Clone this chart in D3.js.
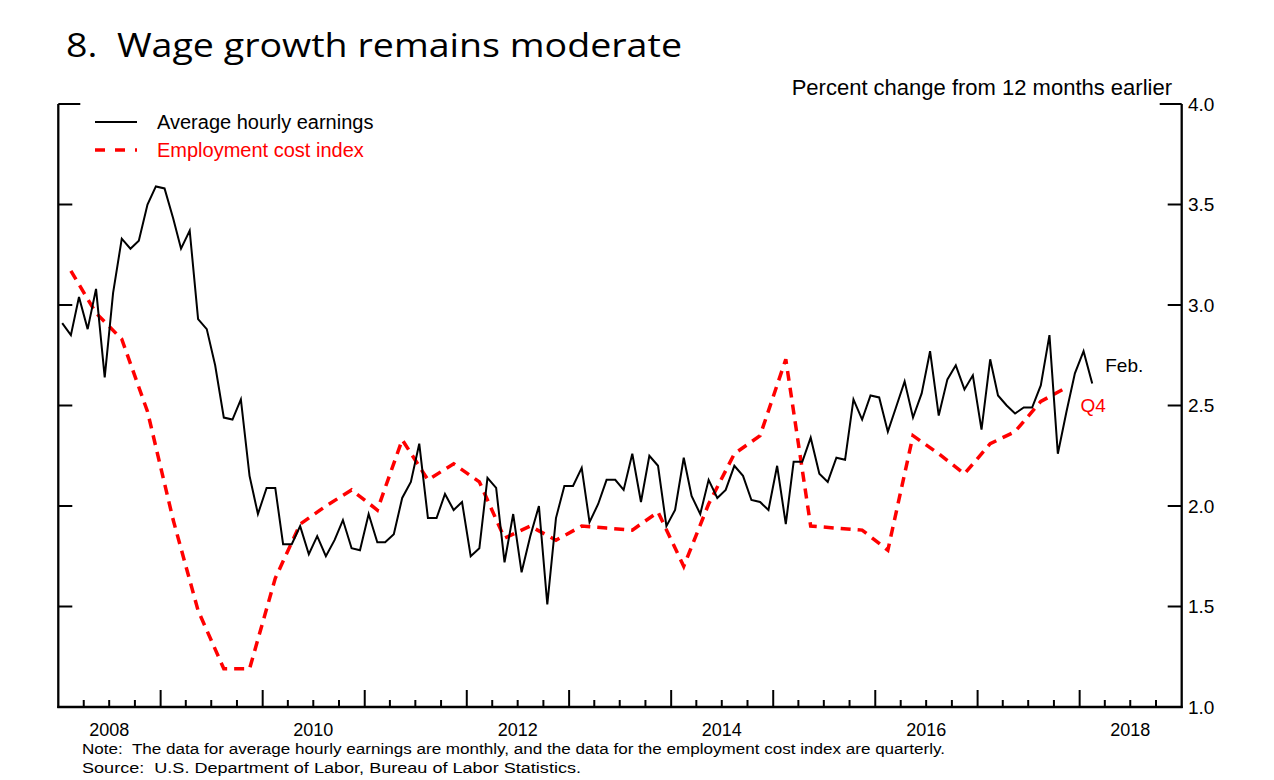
<!DOCTYPE html>
<html>
<head>
<meta charset="utf-8">
<script src="https://cdn.jsdelivr.net/npm/d3@7"></script>
<style>
body{margin:0;background:#fff;}
svg text{font-family:"Liberation Sans",Arial,sans-serif;white-space:pre;}
</style>
</head>
<body>
<svg id="chart" width="1274" height="780"></svg>
<script>
// average hourly earnings, monthly, Jan 2008 .. Feb 2018
var aheValues=[
2.91,2.85,3.04,2.88,3.08,2.64,3.06,3.33,3.28,3.32,3.50,3.59,
3.58,3.43,3.28,3.37,2.93,2.88,2.70,2.44,2.43,2.53,2.15,1.96,
2.09,2.09,1.81,1.81,1.90,1.76,1.85,1.75,1.83,1.93,1.79,1.78,
1.96,1.82,1.82,1.86,2.04,2.12,2.31,1.94,1.94,2.06,1.98,2.02,
1.75,1.79,2.14,2.09,1.72,1.96,1.67,1.85,2.00,1.51,1.94,2.10,
2.10,2.19,1.92,2.01,2.13,2.13,2.08,2.26,2.02,2.25,2.20,1.90,
1.98,2.24,2.05,1.96,2.13,2.04,2.08,2.20,2.15,2.03,2.02,1.98,
2.20,1.91,2.22,2.22,2.34,2.16,2.12,2.24,2.23,2.53,2.43,2.55,
2.54,2.37,2.49,2.62,2.44,2.56,2.77,2.45,2.63,2.70,2.58,2.65,
2.38,2.73,2.55,2.50,2.46,2.49,2.49,2.60,2.85,2.26,2.47,2.66,
2.77,2.61];
// employment cost index, quarterly, Q1 2008 .. Q4 2017
var eciValues=[
3.17,2.96,2.83,2.47,
1.93,1.48,1.19,1.19,
1.64,1.91,2.00,2.08,
1.98,2.33,2.13,2.21,
2.12,1.84,1.90,1.83,
1.90,1.89,1.88,1.97,
1.70,2.01,2.26,2.35,
2.73,1.90,1.89,1.88,
1.78,2.35,2.26,2.16,
2.31,2.37,2.52,2.59];
var yTicks=[1.0,1.5,2.0,2.5,3.0,3.5,4.0];
var yearLabels=[2008,2010,2012,2014,2016,2018];
var legendNames=["Average hourly earnings","Employment cost index"];

var svg=d3.select("#chart");
var x=d3.scaleTime().domain([new Date(2008,0,1),new Date(2019,0,1)]).range([58.3,1181.7]);
var y=d3.scaleLinear().domain([1,4]).range([707,104]);

var aheData=aheValues.map(function(v,i){return {date:new Date(2008,i,15),value:v};});
var eciData=eciValues.map(function(v,i){return {date:new Date(2008,i*3+1,15),value:v};});

// title
svg.append("text").attr("x",66).attr("y",57)
	.style("font-family","'Open Sans',sans-serif").style("font-size","33px")
	.attr("textLength",616).attr("lengthAdjust","spacingAndGlyphs")
	.text("8.  Wage growth remains moderate");

svg.append("text").attr("x",1172).attr("y",95).attr("text-anchor","end")
	.style("font-size","22px").text("Percent change from 12 months earlier");

// frame
var frame=svg.append("g").attr("stroke","#000").attr("stroke-width",2.3).attr("fill","none");
frame.append("line").attr("x1",x.range()[0]).attr("x2",x.range()[0]).attr("y1",y(4)).attr("y2",y(1)+1);
frame.append("line").attr("x1",x.range()[1]).attr("x2",x.range()[1]).attr("y1",y(4)).attr("y2",y(1)+1);
frame.append("line").attr("x1",x.range()[0]-1).attr("x2",x.range()[1]+1).attr("y1",y(1)).attr("y2",y(1));

// y ticks both sides, inward
var yt=svg.append("g").attr("stroke","#000").attr("stroke-width",2);
yTicks.slice(1).forEach(function(t){
	var len=t==4?22:14;
	yt.append("line").attr("x1",x.range()[0]).attr("x2",x.range()[0]+len).attr("y1",y(t)).attr("y2",y(t));
	yt.append("line").attr("x1",x.range()[1]).attr("x2",x.range()[1]-len).attr("y1",y(t)).attr("y2",y(t));
});
svg.selectAll(".ylab").data(yTicks).enter().append("text")
	.attr("x",1188).attr("y",function(d){return y(d)}).attr("dy","0.36em")
	.style("font-size","19px").text(function(d){return d.toFixed(1)});

// x ticks: years major, quarters minor
var quarters=d3.timeMonth.every(3).range(new Date(2008,0,1),new Date(2019,0,1));
svg.append("g").attr("stroke","#000").attr("stroke-width",2)
	.selectAll("line").data(quarters.slice(1)).enter().append("line")
	.attr("x1",function(d){return x(d)}).attr("x2",function(d){return x(d)})
	.attr("y1",y(1)).attr("y2",function(d){return d.getMonth()==0?y(1)-17:y(1)-7});
svg.selectAll(".xlab").data(yearLabels).enter().append("text")
	.attr("x",function(d){return x(new Date(d,6,1))}).attr("y",736).attr("text-anchor","middle")
	.style("font-size","18px").text(function(d){return d});

// lines
var line=d3.line().x(function(d){return x(d.date)}).y(function(d){return y(d.value)});
svg.append("path").datum(eciData).attr("d",line).attr("fill","none")
	.attr("stroke","#f00").attr("stroke-width",3.5).attr("stroke-dasharray","10,7");
svg.append("path").datum(aheData).attr("d",line).attr("fill","none")
	.attr("stroke","#000").attr("stroke-width",2).attr("stroke-linejoin","miter");

// end labels
var lastA=aheData[aheData.length-1],lastE=eciData[eciData.length-1];
svg.append("text").attr("x",x(lastA.date)+13).attr("y",y(lastA.value)-11)
	.style("font-size","19px").text("Feb.");
svg.append("text").attr("x",x(lastE.date)+14).attr("y",y(lastE.value)+25)
	.style("font-size","19px").attr("fill","#f00").text("Q4");

// legend
var lg=svg.append("g");
lg.append("line").attr("x1",95).attr("x2",137).attr("y1",122).attr("y2",122).attr("stroke","#000").attr("stroke-width",2);
lg.append("line").attr("x1",95).attr("x2",137).attr("y1",150).attr("y2",150).attr("stroke","#f00").attr("stroke-width",3.5).attr("stroke-dasharray","10,10");
lg.append("text").attr("x",157).attr("y",129).style("font-size","20px").text(legendNames[0]);
lg.append("text").attr("x",157).attr("y",157).style("font-size","20px").attr("fill","#f00").text(legendNames[1]);

// notes
svg.append("text").attr("x",82).attr("y",754).style("font-size","14px")
	.attr("textLength",863).attr("lengthAdjust","spacingAndGlyphs")
	.text("Note:  The data for average hourly earnings are monthly, and the data for the employment cost index are quarterly.");
svg.append("text").attr("x",82).attr("y",773).style("font-size","14px")
	.attr("textLength",499).attr("lengthAdjust","spacingAndGlyphs")
	.text("Source:  U.S. Department of Labor, Bureau of Labor Statistics.");
</script>
</body>
</html>
